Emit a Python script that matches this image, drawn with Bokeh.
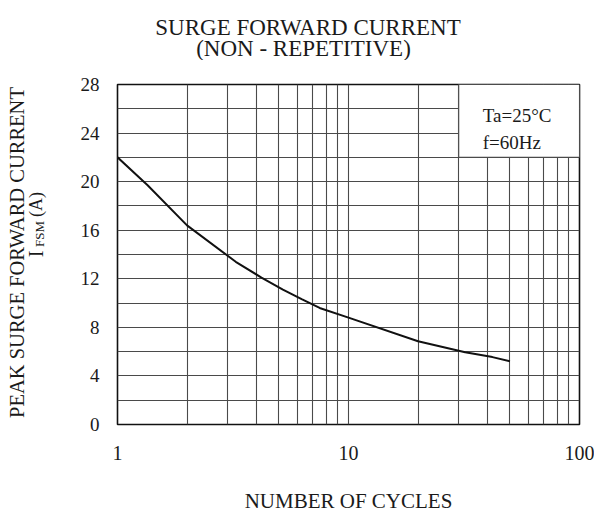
import math
from bokeh.plotting import figure
from bokeh.models import FixedTicker, Label, Range1d
from bokeh.layouts import column, row
from bokeh.embed import file_html
from bokeh.resources import INLINE
from bokeh.core.properties import value

# ---- data ----
cycles = [1, 1.35, 2, 3.25, 4.2, 5.2, 6.3, 7.5, 10, 20, 32, 42, 50]
ifsm = [22.0, 19.7, 16.4, 13.4, 12.1, 11.1, 10.3, 9.6, 8.8, 6.85, 5.95, 5.55, 5.2]

x_major_ticks = [1, 10, 100]
x_grid_ticks = [1, 2, 3, 4, 5, 6, 7, 8, 9, 10, 20, 30, 40, 50, 60, 70, 80, 90, 100]
y_major_ticks = [0, 4, 8, 12, 16, 20, 24, 28]
y_grid_ticks = [0, 2, 4, 6, 8, 10, 12, 14, 16, 18, 20, 22, 24, 26, 28]

title_lines = ["SURGE FORWARD CURRENT", "(NON - REPETITIVE)"]
ylabel_line1 = "PEAK SURGE FORWARD CURRENT"
ylabel_parts = ["I", "FSM", "(A)"]
x_label = "NUMBER OF CYCLES"
cond_lines = ["Ta=25\u00b0C", "f=60Hz"]
box_x = [30, 100]
box_y = [22, 28]

FONT = "Liberation Serif"
TXT = "#1a1a1a"
GRID = "#4a4a4a"

# ---------------- title strip (pixel coordinates) ----------------
top = figure(width=594, height=60, x_range=Range1d(0, 594), y_range=Range1d(60, 0),
             output_backend="svg", toolbar_location=None, min_border=0,
             x_axis_location=None, y_axis_location=None)
top.outline_line_color = None
top.grid.visible = False
top.text(x=[307.5, 303], y=[27, 48], text=title_lines, text_font=value(FONT),
         text_font_size="23px", text_align="center", text_baseline="alphabetic",
         text_color=TXT)

# ---------------- y label strip (pixel coordinates) ----------------
left = figure(width=60, height=455, x_range=Range1d(0, 60), y_range=Range1d(424, 84),
              output_backend="svg", toolbar_location=None,
              min_border_left=0, min_border_right=0, min_border_top=24, min_border_bottom=91,
              x_axis_location=None, y_axis_location=None)
left.outline_line_color = None
left.grid.visible = False
rot = math.pi / 2
def ytxt(x, y, t, size):
    left.text(x=[x], y=[y], text=[t], angle=rot, text_font=value(FONT),
              text_font_size=size, text_align="center", text_baseline="alphabetic",
              text_color=TXT)
ytxt(16, 252, ylabel_line1, "20.5px")
ytxt(35.5, 253.5, ylabel_parts[0], "20px")
ytxt(38.5, 233.5, ylabel_parts[1], "13px")
ytxt(35.5, 204, ylabel_parts[2], "18px")

# ---------------- main chart ----------------
p = figure(width=534, height=455, x_axis_type="log", x_range=(1, 100), y_range=(0, 28),
           output_backend="svg", toolbar_location=None,
           min_border_left=57, min_border_right=15, min_border_top=24, min_border_bottom=91)
p.background_fill_color = "white"
p.border_fill_color = "white"
p.outline_line_color = "#111111"
p.outline_line_width = 1.6

p.xgrid.ticker = FixedTicker(ticks=x_grid_ticks)
p.ygrid.ticker = FixedTicker(ticks=y_grid_ticks)
for g in (p.xgrid, p.ygrid):
    g.grid_line_color = GRID
    g.grid_line_width = 1.1
    g.grid_line_alpha = 1.0

p.xaxis.ticker = FixedTicker(ticks=x_major_ticks)
p.xaxis.major_label_overrides = {t: str(t) for t in x_major_ticks}
p.yaxis.ticker = FixedTicker(ticks=y_major_ticks)
for ax in (p.xaxis, p.yaxis):
    ax.axis_line_color = None
    ax.major_tick_line_color = None
    ax.minor_tick_line_color = None
    ax.major_label_text_font = FONT
    ax.major_label_text_color = TXT
p.xaxis.major_label_text_font_size = "20px"
p.xaxis.major_label_standoff = 15
p.yaxis.major_label_text_font_size = "19px"
p.yaxis.major_label_standoff = 12
p.xaxis.axis_label = x_label
p.xaxis.axis_label_text_font = FONT
p.xaxis.axis_label_text_font_size = "21px"
p.xaxis.axis_label_text_font_style = "normal"
p.xaxis.axis_label_text_color = TXT
p.xaxis.axis_label_standoff = 26

p.quad(left=[box_x[0]], right=[box_x[1]], bottom=[box_y[0]], top=[box_y[1]],
       fill_color="white", line_color=GRID, line_width=1.1)

p.line(cycles, ifsm, line_color="#111111", line_width=2)

for txt, dy in zip(cond_lines, [-31, -58]):
    p.add_layout(Label(x=box_x[0], y=box_y[1], x_offset=24, y_offset=dy, text=txt,
                       text_font=FONT, text_font_size="19px", text_color=TXT,
                       text_align="left", text_baseline="alphabetic"))

layout = column(top, row(left, p))
open("out.html", "w").write(file_html(layout, INLINE))
